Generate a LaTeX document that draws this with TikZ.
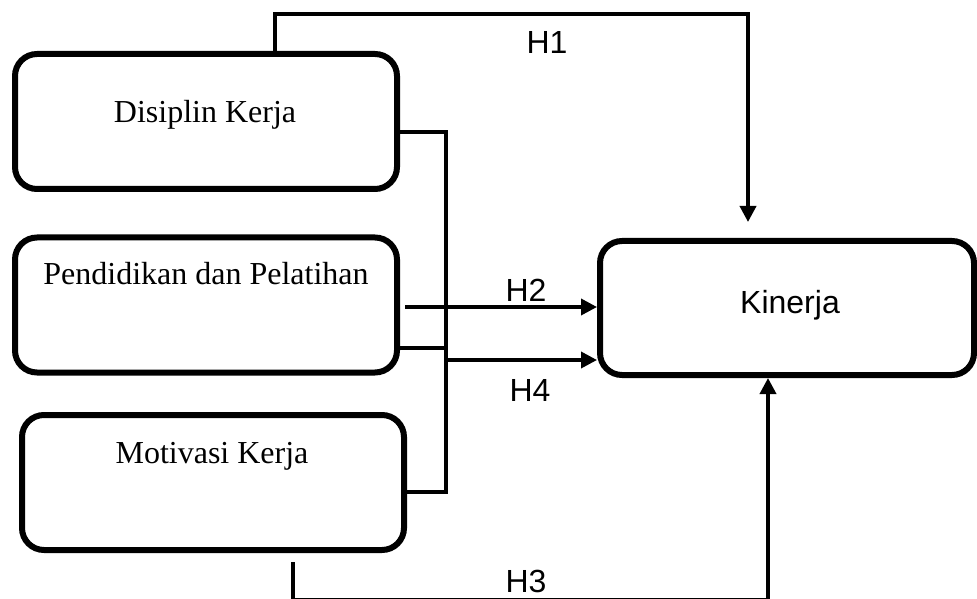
\documentclass[tikz,border=0pt]{standalone}
\usepackage{fontspec}
\setmainfont{Liberation Serif}
\newfontfamily\hfont{Liberation Sans}
\usetikzlibrary{arrows.meta}

\begin{document}
\begin{tikzpicture}[x=0.5pt,y=-0.5pt]
\tikzstyle{varbox} = [draw, line width=3pt, rounded corners=11pt, minimum width=191pt, minimum height=67.5pt, inner sep=0pt]
\tikzstyle{vartext} = [anchor=base, inner sep=0pt, font=\fontsize{16}{19}\selectfont]
\tikzstyle{hlabel} = [inner sep=0pt, font=\hfont\fontsize{16}{19}\selectfont]
\tikzstyle{link} = [line width=1.8pt]
\tikzstyle{arrowlink} = [line width=1.8pt, -{Triangle[length=8pt,width=8pt]}]
\useasboundingbox (0,0) rectangle (977,598);

\node [varbox] (disiplin) at (206, 121.5) {};
\node [varbox] (pendidikan) at (206, 305) {};
\node [varbox] (motivasi) at (213, 482.5) {};
\node [varbox, minimum width=187pt, minimum height=67pt] (kinerja) at (787, 308) {};

\node [vartext] (disiplinT) at (205, 123) {Disiplin Kerja};
\node [vartext] (pendidikanT) at (206, 285) {Pendidikan dan Pelatihan};
\node [vartext] (motivasiT) at (212, 463) {Motivasi Kerja};
\node [hlabel, anchor=base] (kinerjaT) at (790, 313) {Kinerja};

\coordinate (h1a) at (275, 14);
\coordinate (h1b) at (748, 14);
\coordinate (bustop) at (446, 132);
\coordinate (busmid) at (446, 348);
\coordinate (bush4) at (446, 360);
\coordinate (busbot) at (446, 492);
\coordinate (h2a) at (405, 307);
\coordinate (h3a) at (293, 562);
\coordinate (h3b) at (293, 599.5);
\coordinate (h3c) at (768, 599.5);

% H1
\draw [arrowlink, shorten >=8pt] (disiplin.north -| h1a) -- (h1a) -- (h1b) -- (kinerja.north -| h1b);
% bus on the right of the three boxes
\draw [link] (disiplin.east |- bustop) -- (bustop) -- (busbot) -- (motivasi.east |- busbot);
\draw [link] (pendidikan.east |- busmid) -- (busmid);
% H2, H4
\draw [arrowlink] (h2a) -- (kinerja.west |- h2a);
\draw [arrowlink] (bush4) -- (kinerja.west |- bush4);
% H3
\draw [arrowlink] (h3a) -- (h3b) -- (h3c) -- (kinerja.south -| h3c);

\node [hlabel] (H1) at (547, 42) {H1};
\node [hlabel] (H2) at (526, 290) {H2};
\node [hlabel] (H4) at (530, 390) {H4};
\node [hlabel] (H3) at (526, 581) {H3};
\end{tikzpicture}
\end{document}
